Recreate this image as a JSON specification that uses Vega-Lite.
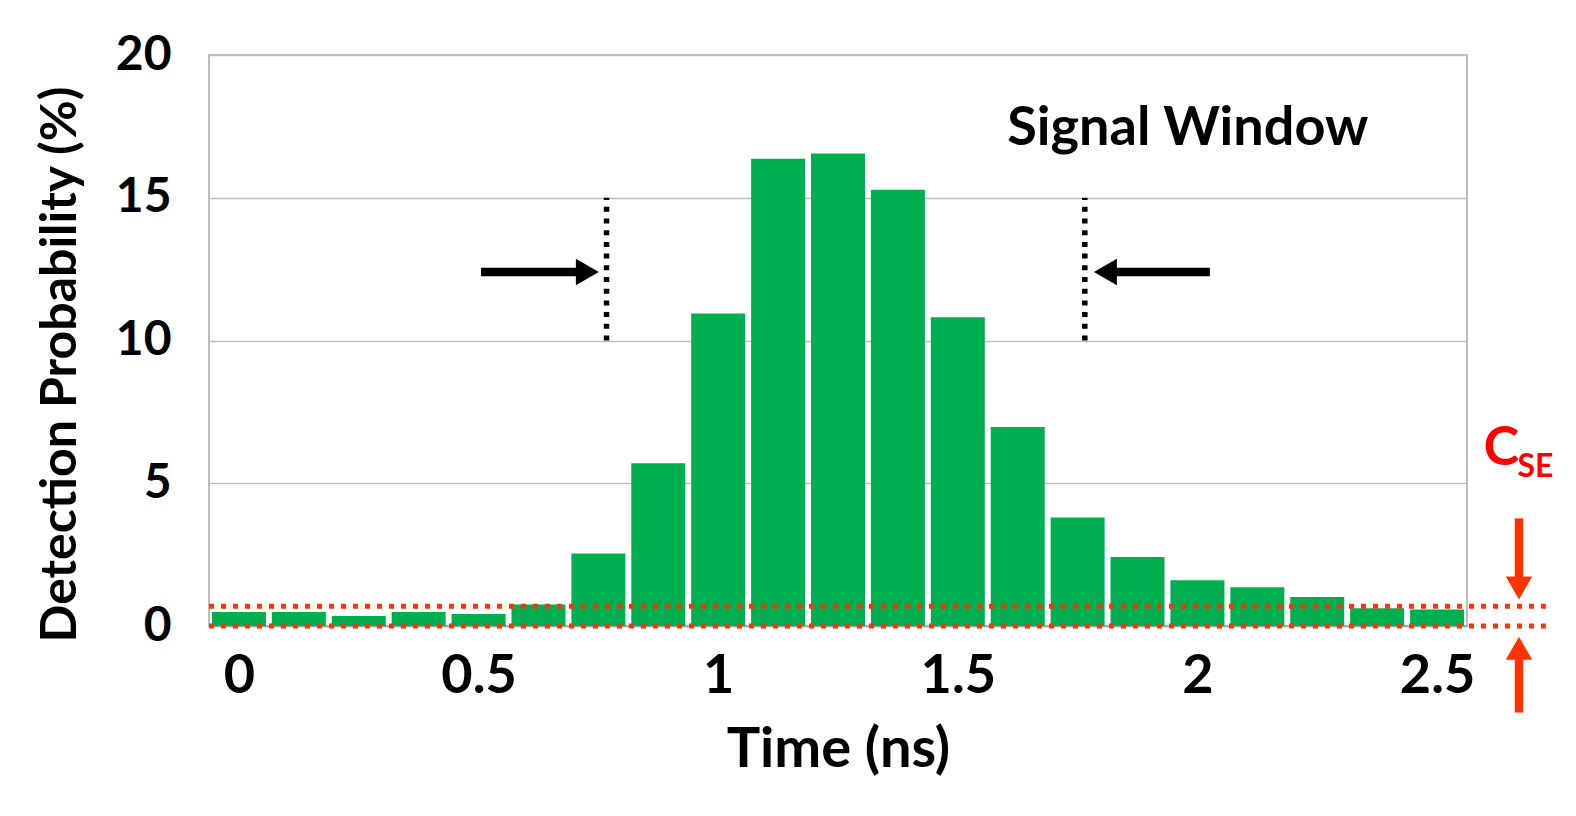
{
  "$schema": "https://vega.github.io/schema/vega-lite/v6.json",
  "width": 1258,
  "height": 571,
  "autosize": {"type": "none"},
  "padding": {"left": 209, "top": 55, "right": 109, "bottom": 190},
  "background": "white",
  "config": {
    "view": {"stroke": "#a6a6a6", "strokeWidth": 1.5},
    "font": "Lato"
  },
  "layer": [
    {
      "data": {"values": [
        {"time": 0, "prob": 0.49},
        {"time": 0.125, "prob": 0.49},
        {"time": 0.25, "prob": 0.35},
        {"time": 0.375, "prob": 0.49},
        {"time": 0.5, "prob": 0.42},
        {"time": 0.625, "prob": 0.75},
        {"time": 0.75, "prob": 2.54},
        {"time": 0.875, "prob": 5.7},
        {"time": 1.0, "prob": 10.95},
        {"time": 1.125, "prob": 16.37},
        {"time": 1.25, "prob": 16.55},
        {"time": 1.375, "prob": 15.28},
        {"time": 1.5, "prob": 10.81},
        {"time": 1.625, "prob": 6.97},
        {"time": 1.75, "prob": 3.8},
        {"time": 1.875, "prob": 2.42},
        {"time": 2.0, "prob": 1.6},
        {"time": 2.125, "prob": 1.36},
        {"time": 2.25, "prob": 1.02},
        {"time": 2.375, "prob": 0.62},
        {"time": 2.5, "prob": 0.58}
      ]},
      "mark": {"type": "bar", "size": 54, "color": "#00b050"},
      "encoding": {
        "x": {
          "field": "time", "type": "quantitative",
          "scale": {"domain": [-0.0625, 2.5625], "nice": false, "zero": false, "padding": 0},
          "axis": {
            "title": "Time (ns)",
            "values": [0, 0.5, 1, 1.5, 2, 2.5],
            "format": "~g",
            "grid": false,
            "ticks": false,
            "domainColor": "#a6a6a6",
            "domainWidth": 1.5,
            "labelFont": "Lato",
            "labelFontWeight": "bold",
            "labelFontSize": 54,
            "labelColor": "black",
            "labelBaseline": "alphabetic",
            "labelPadding": 66,
            "labelFlush": false,
            "titleFont": "Lato",
            "titleFontWeight": "bold",
            "titleFontSize": 56,
            "titleColor": "black",
            "titleBaseline": "alphabetic",
            "titleY": 140
          }
        },
        "y": {
          "field": "prob", "type": "quantitative",
          "scale": {"domain": [0, 20], "nice": false, "padding": 0},
          "axis": {
            "title": "Detection Probability (%)",
            "values": [0, 5, 10, 15, 20],
            "grid": true,
            "gridColor": "#bfbfbf",
            "gridWidth": 1.5,
            "domain": false,
            "ticks": false,
            "labelFont": "Lato",
            "labelFontWeight": "bold",
            "labelFontSize": 48,
            "labelColor": "black",
            "labelPadding": 38,
            "labelFlush": false,
            "titleFont": "Lato",
            "titleFontWeight": "bold",
            "titleFontSize": 50,
            "titleColor": "black",
            "titleAngle": -90,
            "titleBaseline": "alphabetic",
            "titleAlign": "center",
            "titleX": -134,
            "titleY": 309
          }
        }
      }
    },
    {
      "data": {"values": [
        {"xs": -0.0625, "xe": 2.727, "level": 0},
        {"xs": -0.0625, "xe": 2.727, "level": 0.69}
      ]},
      "mark": {"type": "rule", "color": "#ff3300", "strokeWidth": 5, "strokeDash": [5, 7]},
      "encoding": {
        "x": {"field": "xs", "type": "quantitative"},
        "x2": {"field": "xe"},
        "y": {"field": "level", "type": "quantitative"}
      }
    },
    {
      "data": {"values": [
        {"edge": 0.767, "lo": 10, "hi": 15},
        {"edge": 1.765, "lo": 10, "hi": 15}
      ]},
      "mark": {"type": "rule", "color": "black", "strokeWidth": 5.5, "strokeDash": [5, 6.7]},
      "encoding": {
        "x": {"field": "edge", "type": "quantitative"},
        "y": {"field": "lo", "type": "quantitative"},
        "y2": {"field": "hi"}
      }
    },
    {
      "data": {"values": [
        {"xs": 0.505, "xe": 0.705, "ys": 12.4, "ye": 12.4, "c": "black"},
        {"xs": 1.83, "xe": 2.026, "ys": 12.4, "ye": 12.4, "c": "black"},
        {"xs": 2.671, "xe": 2.671, "ys": 3.77, "ye": 1.6, "c": "red"},
        {"xs": 2.671, "xe": 2.671, "ys": -0.95, "ye": -3.03, "c": "red"}
      ]},
      "mark": {"type": "rule", "strokeWidth": 8.5},
      "encoding": {
        "x": {"field": "xs", "type": "quantitative"},
        "x2": {"field": "xe"},
        "y": {"field": "ys", "type": "quantitative"},
        "y2": {"field": "ye"},
        "color": {"field": "c", "type": "nominal", "scale": {"domain": ["black", "red"], "range": ["black", "#ff3300"]}, "legend": null}
      }
    },
    {
      "data": {"values": [
        {"hx": 0.727, "hy": 12.4, "dir": "triangle-right", "c": "black"},
        {"hx": 1.808, "hy": 12.4, "dir": "triangle-left", "c": "black"},
        {"hx": 2.671, "hy": 1.33, "dir": "triangle-down", "c": "red"},
        {"hx": 2.671, "hy": -0.78, "dir": "triangle-up", "c": "red"}
      ]},
      "mark": {"type": "point", "filled": true, "opacity": 1, "size": 700, "strokeWidth": 0},
      "encoding": {
        "x": {"field": "hx", "type": "quantitative"},
        "y": {"field": "hy", "type": "quantitative"},
        "shape": {"field": "dir", "type": "nominal", "scale": null},
        "color": {"field": "c", "type": "nominal", "scale": {"domain": ["black", "red"], "range": ["black", "#ff3300"]}, "legend": null}
      }
    },
    {
      "data": {"values": [
        {"tx": 1.98, "ty": 16.86, "label": "Signal Window"}
      ]},
      "mark": {"type": "text", "font": "Lato", "fontWeight": "bold", "fontSize": 54, "color": "black", "align": "center", "baseline": "alphabetic"},
      "encoding": {
        "x": {"field": "tx", "type": "quantitative"},
        "y": {"field": "ty", "type": "quantitative"},
        "text": {"field": "label"}
      }
    },
    {
      "data": {"values": [
        {"tx": 2.634, "ty": 6.2, "label": "C"}
      ]},
      "mark": {"type": "text", "font": "Lato", "fontWeight": "bold", "fontSize": 54, "color": "#ff0000", "align": "center", "baseline": "middle"},
      "encoding": {
        "x": {"field": "tx", "type": "quantitative"},
        "y": {"field": "ty", "type": "quantitative"},
        "text": {"field": "label"}
      }
    },
    {
      "data": {"values": [
        {"tx": 2.668, "ty": 5.58, "label": "SE"}
      ]},
      "mark": {"type": "text", "font": "Lato", "fontWeight": "bold", "fontSize": 32, "color": "#ff0000", "align": "left", "baseline": "middle"},
      "encoding": {
        "x": {"field": "tx", "type": "quantitative"},
        "y": {"field": "ty", "type": "quantitative"},
        "text": {"field": "label"}
      }
    }
  ]
}
